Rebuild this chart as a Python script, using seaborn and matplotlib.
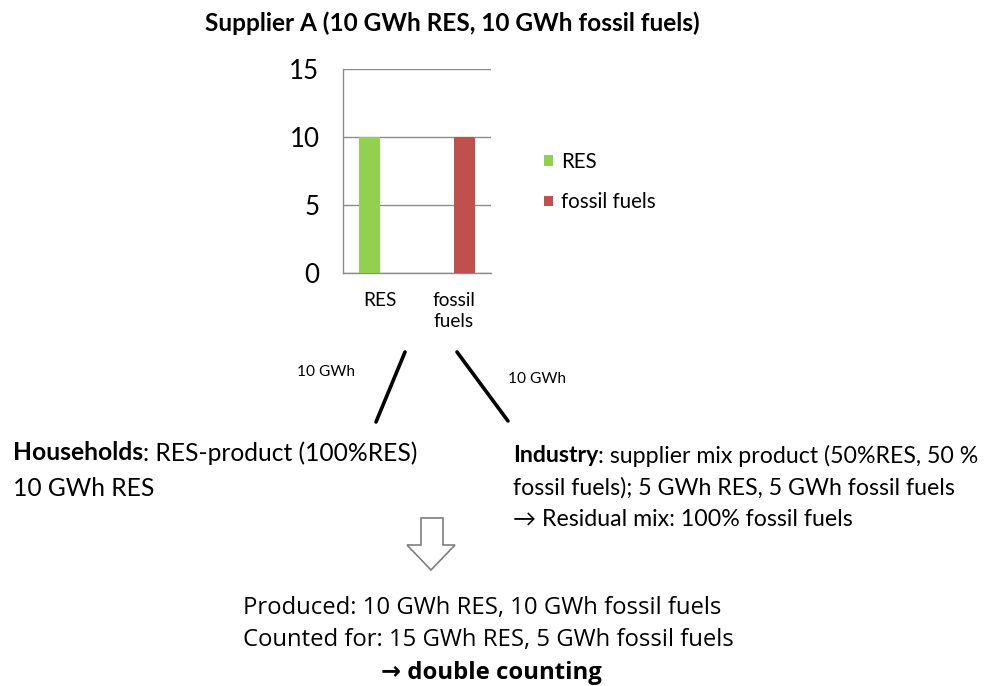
import matplotlib
matplotlib.use("Agg")
import matplotlib.pyplot as plt
import seaborn as sns
import pandas as pd
from matplotlib.patches import Polygon
from matplotlib.lines import Line2D

# ---- data ----
categories = ["RES", "fossil\nfuels"]
series_names = ["RES", "fossil fuels"]
res_values = [10, 0]
fossil_values = [0, 10]
y_ticks = [0, 5, 10, 15]
title = "Supplier A (10 GWh RES, 10 GWh fossil fuels)"
flow_label = "10 GWh"

W, H = 992, 686
sns.set_theme(style="white")
plt.rcParams["font.family"] = ["Lato", "DejaVu Sans"]
plt.rcParams["text.color"] = "black"

fig = plt.figure(figsize=(W / 100, H / 100), dpi=100)
fig.canvas.draw()
renderer = fig.canvas.get_renderer()

def px(x, y):
    return (x / W, 1 - y / H)

def text_width(parts, fs, family=None):
    total = 0
    for txt, bold in parts:
        kw = {} if family is None else {"family": family}
        t = fig.text(0, 0, txt, fontsize=fs, fontweight="bold" if bold else "normal", **kw)
        total += t.get_window_extent(renderer).width
        t.remove()
    return total

def fit(parts, target, family=None, base=20):
    return base * target / text_width(parts, base, family)

ax = fig.add_axes([343 / W, 1 - 273 / H, (491 - 343) / W, (273 - 69) / H])

df = pd.DataFrame({
    "category": categories * 2,
    "series": [series_names[0]] * 2 + [series_names[1]] * 2,
    "value": res_values + fossil_values,
})
sns.barplot(data=df, x="category", y="value", hue="series",
            palette=["#92D050", "#C0504D"], width=0.57, dodge=True,
            saturation=1, ax=ax, edgecolor="none", zorder=3)

grid_c = "#8c8c8c"
fs_ytick = fit([("15", False)], 30)
fs_xtick = fit([("fossil", False)], 43)
fs_leg = fit([("fossil fuels", False)], 95)
ax.set_ylim(0, 15)
ax.set_yticks(y_ticks)
ax.set_yticklabels([str(t) for t in y_ticks], fontsize=fs_ytick, color="black")
ax.set_xlim(-0.5, 1.5)
ax.set_xticks([-0.5, 0.5, 1.5])
ax.set_xticklabels([])
ax.set_xticks([0, 1], minor=True)
ax.set_xticklabels(categories, minor=True, fontsize=fs_xtick, color="black",
                   linespacing=1.25)
ax.tick_params(axis="x", which="minor", length=0, pad=14)
ax.tick_params(axis="x", which="major", length=9, color=grid_c, width=1, direction="out")
ax.tick_params(axis="y", length=10, color=grid_c, width=1, direction="out", pad=7)
ax.yaxis.grid(True, color=grid_c, linewidth=1, zorder=0)
ax.set_axisbelow(True)
for s in ["top", "right"]:
    ax.spines[s].set_visible(False)
for s in ["left", "bottom"]:
    ax.spines[s].set_color(grid_c)
    ax.spines[s].set_linewidth(1)
ax.set_xlabel("")
ax.set_ylabel("")
handles, labels = ax.get_legend_handles_labels()
if ax.get_legend() is not None:
    ax.get_legend().remove()
leg = fig.legend(handles, labels, loc="center left", bbox_to_anchor=px(544, 182),
                 frameon=False, fontsize=fs_leg, handlelength=0.42, handleheight=0.42,
                 handletextpad=0.4, labelspacing=1.0, borderpad=0, borderaxespad=0,
                 labelcolor="black")

# title
fs_title = fit([(title, True)], 496)
fig.text(*px(452, 23), title, ha="center", va="center", fontsize=fs_title, fontweight="bold")

# flow lines
for (x0, y0, x1, y1) in [(405, 352, 376, 422), (457, 352, 508, 421)]:
    fig.add_artist(Line2D([x0 / W, x1 / W], [1 - y0 / H, 1 - y1 / H], color="black",
                          linewidth=2.6, transform=fig.transFigure))
fs_small = fit([(flow_label, False)], 58)
fig.text(*px(326, 372), flow_label, ha="center", va="center", fontsize=fs_small)
fig.text(*px(537, 379), flow_label, ha="center", va="center", fontsize=fs_small)

def inline(x, y, parts, fs):
    cx = x
    for txt, bold in parts:
        t = fig.text(*px(cx, y), txt, ha="left", va="center", fontsize=fs,
                     fontweight="bold" if bold else "normal")
        cx += t.get_window_extent(renderer).width

hh1 = [("Households", True), (": RES-product (100%RES)", False)]
in1 = [("Industry", True), (": supplier mix product (50%RES, 50 %", False)]
fs_hh = fit(hh1, 404)
fs_in = fit(in1, 466)
inline(13, 453, hh1, fs_hh)
inline(13, 489, [("10 GWh RES", False)], fs_hh)
inline(513, 456, in1, fs_in)
inline(513, 488, [("fossil fuels); 5 GWh RES, 5 GWh fossil fuels", False)], fs_in)
inline(513, 519, [("\u2192 Residual mix: 100% fossil fuels", False)], fs_in)

# hollow arrow
arrow = Polygon([px(421, 518), px(443, 518), px(443, 545), px(455, 545), px(431, 570),
                 px(407, 545), px(421, 545)], closed=True, facecolor="white",
                edgecolor="#7f7f7f", linewidth=1.2, transform=fig.transFigure)
fig.add_artist(arrow)

bot_fam = ["Open Sans", "DejaVu Sans"]
fs_bot = fit([("Counted for: 15 GWh RES, 5 GWh fossil fuels", False)], 490, family=bot_fam)
fig.text(*px(243, 608), "Produced: 10 GWh RES, 10 GWh fossil fuels", ha="left", va="center",
         fontsize=fs_bot, family=bot_fam)
fig.text(*px(243, 640), "Counted for: 15 GWh RES, 5 GWh fossil fuels", ha="left", va="center",
         fontsize=fs_bot, family=bot_fam)
fig.text(*px(491, 673), "\u2192 double counting", ha="center", va="center",
         fontsize=fs_bot, fontweight="bold", family=bot_fam)

fig.savefig("out.png", dpi=100)
